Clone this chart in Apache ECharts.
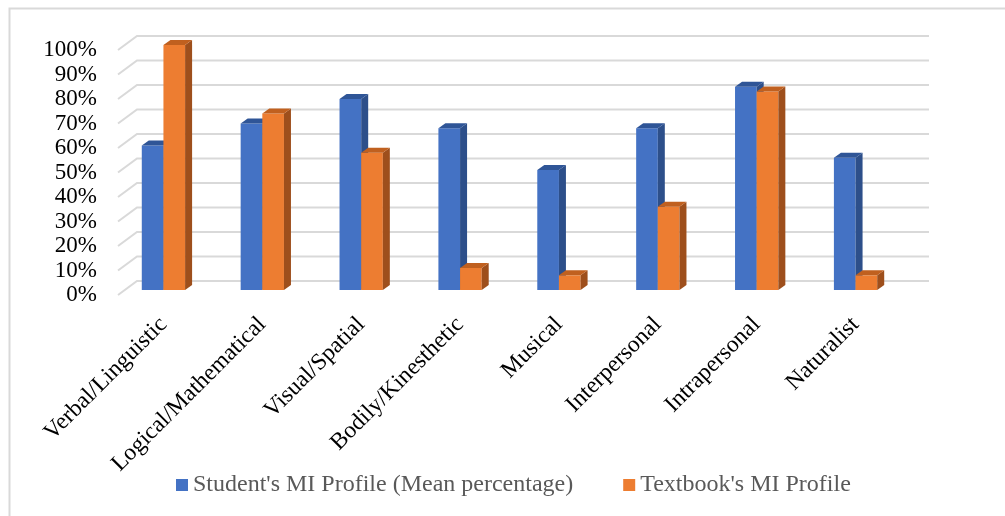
<!DOCTYPE html>
<html lang="en">
<head>
    <meta charset="UTF-8">
    <title>MI Profile</title>
    <script src="https://cdn.jsdelivr.net/npm/echarts@6/dist/echarts.min.js"></script>
</head>
<body style="margin:0">
<div id="main" style="width: 1005px;height:516px;"></div>
<script type="text/javascript">
    var myChart = echarts.init(document.getElementById('main'));

    // data (percent)
    var categories = ['Verbal/Linguistic', 'Logical/Mathematical', 'Visual/Spatial', 'Bodily/Kinesthetic',
        'Musical', 'Interpersonal', 'Intrapersonal', 'Naturalist'];
    var studentValues = [59, 68, 78, 66, 49, 66, 83, 54];
    var textbookValues = [100, 72, 56, 9, 6, 34, 81, 6];
    var yTicks = [0, 10, 20, 30, 40, 50, 60, 70, 80, 90, 100];
    var seriesNames = ["Student's MI Profile (Mean percentage)", "Textbook's MI Profile"];

    var font = "'Times New Roman', 'Liberation Serif', serif";

    // fake 3d: depth of bars, depth of back wall
    var DX = 7, DY = -5, SY = -5;
    var WX = 19, WY = -14;

    function bar3d(side, front, dark, top) {
        return function (params, api) {
            var c = api.coord([api.value(0), api.value(1)]);
            var base = api.coord([api.value(0), 0]);
            var bw = api.size([1, 0])[0] * 0.219;
            var x0 = side < 0 ? c[0] - bw : c[0];
            var x1 = x0 + bw;
            var yt = c[1] + SY, yb = base[1] + SY;
            return {
                type: 'group',
                children: [
                    {type: 'rect', shape: {x: x0, y: yt, width: bw, height: yb - yt}, style: {fill: front}},
                    {type: 'polygon', shape: {points: [[x1, yb], [x1 + DX, yb + DY], [x1 + DX, yt + DY], [x1, yt]]}, style: {fill: dark}},
                    {type: 'polygon', shape: {points: [[x0, yt], [x0 + DX, yt + DY], [x1 + DX, yt + DY], [x1, yt]]}, style: {fill: top}}
                ]
            };
        };
    }

    function wallLine(params, api) {
        var cs = params.coordSys;
        var y = api.coord([0, api.value(1)])[1];
        var x = cs.x + 4;
        return {
            type: 'polyline',
            shape: {points: [[x, y], [x + WX, y + WY], [cs.x + cs.width + 24, y + WY]]},
            style: {stroke: '#d9d9d9', lineWidth: 2, fill: null}
        };
    }

    var option = {
        backgroundColor: '#fff',
        animation: false,
        graphic: [{
            type: 'rect', left: 7, top: 6, silent: true,
            shape: {width: 1200, height: 600},
            style: {fill: null, stroke: '#d9d9d9', lineWidth: 2}
        }],
        grid: {left: 114, right: 100, top: 50, bottom: 221, outerBoundsMode: 'none'},
        legend: {
            left: 171, top: 468,
            itemWidth: 12, itemHeight: 12, itemGap: 50,
            icon: 'rect',
            textStyle: {color: '#595959', fontSize: 24, fontFamily: font},
            data: seriesNames
        },
        xAxis: {
            type: 'category',
            data: categories,
            axisLine: {show: false},
            axisTick: {show: false},
            axisLabel: {rotate: 45, margin: 26, interval: 0, color: '#000', fontSize: 23.5, fontFamily: font}
        },
        yAxis: {
            type: 'value',
            min: 0, max: 100, interval: 10,
            splitLine: {show: false},
            axisLine: {show: false},
            axisTick: {show: false},
            axisLabel: {formatter: '{value}%', margin: 17, color: '#000', fontSize: 23, fontFamily: font}
        },
        series: [{
            type: 'custom',
            silent: true,
            renderItem: wallLine,
            data: yTicks.map(function (v) { return [0, v]; }),
            z: 1
        }, {
            name: seriesNames[0],
            type: 'custom',
            itemStyle: {color: '#4472C4'},
            renderItem: bar3d(-1, '#4472C4', '#2D4F8A', '#2F5597'),
            data: studentValues.map(function (v, i) { return [i, v]; }),
            z: 2
        }, {
            name: seriesNames[1],
            type: 'custom',
            itemStyle: {color: '#ED7D31'},
            renderItem: bar3d(1, '#ED7D31', '#9E4F1C', '#C0601F'),
            data: textbookValues.map(function (v, i) { return [i, v]; }),
            z: 3
        }]
    };

    myChart.setOption(option);
</script>
</body>
</html>
